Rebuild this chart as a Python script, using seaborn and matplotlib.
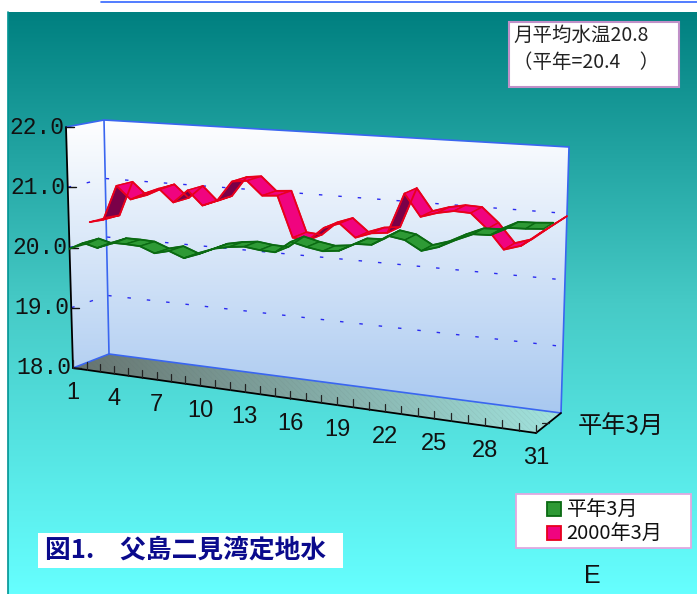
import numpy as np
import pandas as pd
import seaborn as sns
import matplotlib
matplotlib.use('Agg')
import matplotlib.pyplot as plt
from matplotlib.colors import LinearSegmentedColormap
from matplotlib.patches import Polygon, Rectangle

# Daily mean water temperature, Chichijima Futami bay
days = list(range(1, 32))
normal_march = [19.98, 20.10, 20.04, 20.15, 20.15, 20.14, 20.05, 20.11, 20.02, 20.11,
                20.22, 20.27, 20.30, 20.27, 20.26, 20.45, 20.39, 20.35, 20.38, 20.51,
                20.52, 20.68, 20.64, 20.50, 20.58, 20.71, 20.82, 20.83, 20.96, 20.97, 20.99]
march_2000 = [20.33, 20.39, 20.98, 20.77, 20.89, 20.99, 20.78, 21.00, 20.77, 20.87,
              21.20, 21.23, 21.01, 21.03, 20.38, 20.36, 20.58, 20.67, 20.47, 20.56,
              20.59, 21.22, 20.88, 20.96, 21.01, 21.00, 20.78, 20.49, 20.57, 20.77, 20.96]
y_ticks = [18.0, 19.0, 20.0, 21.0, 22.0]
x_ticks = [1, 4, 7, 10, 13, 16, 19, 22, 25, 28, 31]

CJK = ['Noto Sans CJK JP', 'DejaVu Sans']

# pixel position of the eight corners of the 3D box: [right][top][back]
CORNERS = np.array([[[[73, 368], [109, 354]], [[66, 127], [104, 120]]],
                    [[[536, 433], [561, 413]], [[546, 160], [569, 147]]]], dtype=float)


def project(day, temp, z):
    day, temp, z = np.broadcast_arrays(np.asarray(day, float), np.asarray(temp, float), np.asarray(z, float))
    s = (day - 1) / 30
    u = s * (1 + 0.14 * s) / 1.14
    t = (temp - 18) / 4
    out = np.zeros(day.shape + (2,))
    for i, wu in enumerate((1 - u, u)):
        for j, wt in enumerate((1 - t, t)):
            for k, wz in enumerate((1 - z, z)):
                out += (wu * wt * wz)[..., None] * CORNERS[i, j, k]
    return out[..., 0], out[..., 1]


def gradient(ax, extent, colors, clip=None, horizontal=False, zorder=1):
    cmap = LinearSegmentedColormap.from_list('g', colors)
    g = np.linspace(0, 1, 256)
    g = g[None, :] if horizontal else g[:, None]
    im = ax.imshow(g, extent=extent, cmap=cmap, aspect='auto', zorder=zorder, interpolation='bilinear')
    if clip is not None:
        poly = Polygon(clip, transform=ax.transData, fc='none', ec='none')
        ax.add_patch(poly)
        im.set_clip_path(poly)


sns.set_theme(style='white')
plt.rcParams['font.family'] = CJK
plt.rcParams['hatch.linewidth'] = 0.5

fig = plt.figure(figsize=(6.97, 5.94), dpi=100, facecolor='white')
ax = fig.add_axes([0, 0, 1, 1])

# page background
gradient(ax, (8, 697, 594, 12), ['#008080', '#46cac6', '#66ffff'])
ax.plot([8, 8], [12, 594], color='#009494', lw=1.2, zorder=2)
ax.plot([101, 697], [2, 2], color='#3366ff', lw=1.2, zorder=2)

# walls and floor of the box
xb, yb = project([1, 1, 31, 31], [18, 22, 22, 18], 1)
back = np.column_stack([xb, yb])
xl, yl = project([1, 1, 1, 1], [18, 22, 22, 18], [0, 0, 1, 1])
left = np.column_stack([xl, yl])
xf, yf = project([1, 1, 31, 31], 18, [0, 1, 1, 0])
floor = np.column_stack([xf, yf])
gradient(ax, (60, 575, 415, 118), ['#ffffff', '#a8c8f0'], clip=back, zorder=3)
gradient(ax, (60, 112, 372, 118), ['#ffffff', '#b4d0f2'], clip=left, zorder=3)
gradient(ax, (73, 561, 433, 354), ['#66736f', '#a2e4de'], clip=floor, horizontal=True, zorder=3)
ax.add_patch(Polygon(floor, fc='none', ec='#55666618', hatch='\\\\\\\\\\\\', lw=0, zorder=3.1))

# dashed grid on the two walls
for t in y_ticks[1:-1]:
    gx, gy = project([1, 1, 31], t, [0, 1, 1])
    ax.plot(gx, gy, color='#2a2af0', lw=1, dashes=(2.5, 11.5), zorder=4)

# blue outline of the walls
for d, t, z in [([1, 31], 22, 1), ([1, 31], 18, 1), (1, [18, 22], 1), (31, [18, 22], 1), (1, 22, [0, 1]), (1, 18, [0, 1])]:
    ox, oy = project(d, t, z)
    ax.plot(ox, oy, color='#3a66f0', lw=1.2, zorder=4)

# black axes
for d, t, z in [(1, [18, 22], 0), ([1, 31], 18, 0), (31, 18, [0, 1])]:
    ox, oy = project(d, t, z)
    ax.plot(ox, oy, color='black', lw=1.3, zorder=5)
for t in y_ticks:
    ox, oy = project(1, t, [0, 0.22])
    ax.plot(ox, [oy[0], oy[0]], color='#111111', lw=1, zorder=5)
    ax.text(ox[0] - 2, oy[0], f'{t:.1f}', ha='right', va='center', fontsize=16.5, family='Liberation Mono', color='#111111', zorder=6)
for d in days:
    ox, oy = project(d, 18, 0)
    ax.plot([ox, ox], [oy, oy - 8], color='#222222', lw=0.9, zorder=5)
for d in x_ticks:
    ox, oy = project(d, 18, 0)
    ax.text(ox, oy + 25, str(d), ha='center', va='center', fontsize=17, family='Liberation Sans', color='#111111', zorder=6)
ox, oy = project(31, 18, 0.5)
ax.plot([ox - 7, ox], [oy, oy], color='#222222', lw=0.9, zorder=5)


def ribbon(values, z0, z1, face, under, edge, zorder):
    # quads left to right, colour flips where the underside of the ribbon shows
    for i in range(len(days) - 1):
        xs, ys = project([days[i], days[i + 1], days[i + 1], days[i]],
                         [values[i], values[i + 1], values[i + 1], values[i]],
                         [z0, z0, z1, z1])
        area = np.sum(xs * np.roll(ys, -1) - np.roll(xs, -1) * ys)
        ax.fill(xs, ys, fc=under if area > 0 else face, ec=edge, lw=1.0, joinstyle='round', zorder=zorder)
    for z in (z0, z1):
        xs, ys = project(days, values, z)
        frame = pd.DataFrame({'x': xs, 'y': ys})
        sns.lineplot(data=frame, x='x', y='y', sort=False, estimator=None, color=edge, lw=1.3, ax=ax, zorder=zorder + 0.1)


ribbon(march_2000, 0.56, 1.0, '#f0047f', '#7a0048', '#e8001c', 7)
ribbon(normal_march, 0.0, 0.42, '#2e9a35', '#2e9a35', '#0a6a12', 8)

# axis name, note, legend, title
ax.text(578, 427, '平年3月', fontsize=17.5, va='center', color='#111111', zorder=9)
ax.add_patch(Rectangle((509, 22), 170, 65, fc='white', ec='#c090c8', lw=1.5, zorder=9))
ax.text(513, 35, '月平均水温20.8', fontsize=14, va='center', color='#222222', zorder=10)
ax.text(513, 62, '（平年=20.4　）', fontsize=14, va='center', color='#222222', zorder=10)

ax.add_patch(Rectangle((516, 494), 175, 54, fc='white', ec='#e0a8e0', lw=1.3, zorder=9))
ax.add_patch(Rectangle((547, 502), 14, 14, fc='#2e9a35', ec='#0a6a12', lw=1.3, zorder=10))
ax.add_patch(Rectangle((547, 526), 14, 14, fc='#f0047f', ec='#e8001c', lw=1.3, zorder=10))
ax.text(567, 510, '平年3月', fontsize=14.5, va='center', color='#111111', zorder=10)
ax.text(566, 534, '2000年3月', fontsize=14.5, va='center', color='#111111', zorder=10)

ax.add_patch(Rectangle((38, 533), 305, 35, fc='white', ec='none', zorder=9))
ax.text(45, 550, '図1.　父島二見湾定地水', fontsize=18.5, fontweight='bold', va='center', color='#0a0a8c', zorder=10)
ax.text(592, 576, 'E', fontsize=18, family='Liberation Sans', ha='center', va='center', color='#111111', zorder=10)

ax.set_xlim(0, 697)
ax.set_ylim(594, 0)
ax.set_axis_off()
fig.savefig('out.png', dpi=100, facecolor='white')
